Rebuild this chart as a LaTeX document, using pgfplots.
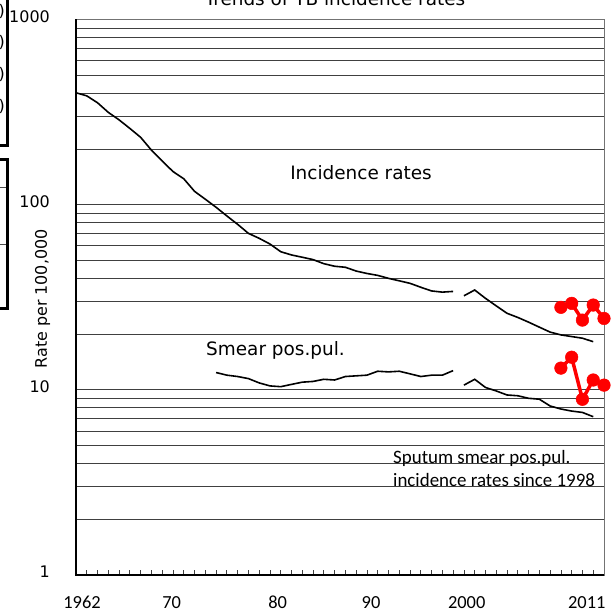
\documentclass[border=0pt]{standalone}
\usepackage{fontspec}
\setmainfont{DejaVu Sans}
\newfontfamily\carlito{Carlito}
\usepackage{pgfplots}
\usepackage{pgfplotstable}
\pgfplotsset{compat=1.18}

% incidence rates, old definition
\pgfplotstableread{
year val
1962 402
1963 387
1964 355
1965 315
1966 287
1967 258
1968 231
1969 197
1970 172
1971 151
1972 138
1973 118
1974 107
1975 96.8
1976 86.9
1977 78.3
1978 70.0
1979 65.8
1980 61.3
1981 55.7
1982 53.5
1983 52.0
1984 50.5
1985 48.0
1986 46.5
1987 45.9
1988 43.8
1989 42.5
1990 41.5
1991 40.0
1992 38.8
1993 37.6
1994 35.8
1995 34.2
1996 33.7
1997 34.0
}\incold

% incidence rates since 1998
\pgfplotstableread{
year val
1998 32.2
1999 34.6
2000 31.2
2001 28.4
2002 25.9
2003 24.6
2004 23.2
2005 21.8
2006 20.5
2007 19.8
2008 19.4
2009 19.0
2010 18.2
}\incnew

% smear positive, old
\pgfplotstableread{
year val
1975 12.4
1976 12.0
1977 11.8
1978 11.5
1979 10.9
1980 10.5
1981 10.4
1982 10.7
1983 11.0
1984 11.1
1985 11.4
1986 11.3
1987 11.8
1988 11.9
1989 12.0
1990 12.6
1991 12.5
1992 12.6
1993 12.2
1994 11.8
1995 12.0
1996 12.0
1997 12.7
}\smearold

% sputum smear positive since 1998
\pgfplotstableread{
year val
1998 10.6
1999 11.4
2000 10.3
2001 9.86
2002 9.38
2003 9.29
2004 9.00
2005 8.90
2006 8.18
2007 7.88
2008 7.68
2009 7.55
2010 7.16
}\smearnew

% red series
\pgfplotstableread{
year val
2007 27.9
2008 29.3
2009 23.8
2010 28.7
2011 24.3
}\redinc

\pgfplotstableread{
year val
2007 13.1
2008 15.0
2009 8.89
2010 11.3
2011 10.6
}\redsmear

\begin{document}
\begin{tikzpicture}
\useasboundingbox (0,0) rectangle (616bp,612bp);

% bits of the neighbouring chart cut off at the left edge
\draw[line width=3bp] (7.7bp,620bp) -- (7.7bp,466.3bp) -- (-5bp,466.3bp);
\draw[line width=3bp] (-5bp,452.7bp) -- (7.7bp,452.7bp) -- (7.7bp,303bp) -- (-5bp,303bp);
\draw[black!70, line width=0.8bp] (-5bp,425bp) -- (6bp,425bp);
\draw[black!70, line width=0.8bp] (-5bp,368bp) -- (6bp,368bp);
\foreach \yy in {600,569,537,505}
  \node[anchor=east, inner sep=0pt, font=\fontsize{16}{19}\selectfont] at (5bp,\yy bp) {)};

\begin{axis}[
  at={(76bp,37bp)}, anchor=south west,
  scale only axis, width=528bp, height=555.5bp,
  xmin=1962, xmax=2011, ymin=1, ymax=1000, ymode=log,
  xtick={1962.56,1970.88,1980.72,1989.38,1998.26,2009.4},
  xticklabels={1962,70,80,90,2000,2011},
  minor xtick={1963,1964,1965,1966,1967,1968,1969,1970,1971,1972,1973,1974,1975,1976,1977,1978,1979,1980,1981,1982,1983,1984,1985,1986,1987,1988,1989,1990,1991,1992,1993,1994,1995,1996,1997,1998,1999,2000,2001,2002,2003,2004,2005,2006,2007,2008,2009,2010},
  ytick={1,10,100,1000}, yticklabels={1,10,100,1000},
  minor ytick={2,3,4,5,6,7,8,9,20,30,40,50,60,70,80,90,200,300,400,500,600,700,800,900},
  xtick pos=bottom, ytick pos=left,
  tick align=inside,
  major tick length=0pt, minor tick length=5bp,
  tick style={black!75, line width=0.8bp},
  ymajorgrids, yminorgrids,
  major grid style={black!75, line width=0.8bp},
  minor grid style={black!75, line width=0.8bp},
  axis line style={black!55, line width=0.8bp},
  xticklabel style={font=\carlito\fontsize{18.5}{20}\selectfont, anchor=base, yshift=-33.5bp, inner sep=0pt},
  yticklabel style={font=\fontsize{16}{19}\selectfont, anchor=east, xshift=-26bp, yshift=3bp, inner sep=0pt},
  ylabel={Rate per 100,000},
  every axis y label/.style={at={(axis description cs:-0.0634,0.497)}, rotate=90, anchor=center, font=\fontsize{16}{19}\selectfont},
  clip=false,
]
\addplot[black, line width=1.6bp, no markers] table[x=year, y=val] {\incold};
\addplot[black, line width=1.6bp, no markers] table[x=year, y=val] {\incnew};
\addplot[black, line width=1.6bp, no markers] table[x=year, y=val] {\smearold};
\addplot[black, line width=1.6bp, no markers] table[x=year, y=val] {\smearnew};
\addplot[red, line width=3.5bp, mark=*, mark size=6.3bp, mark options={fill=red, draw=red, line width=0.5bp}] table[x=year, y=val] {\redinc};
\addplot[red, line width=3.5bp, mark=*, mark size=6.3bp, mark options={fill=red, draw=red, line width=0.5bp}] table[x=year, y=val] {\redsmear};

\draw[black, line width=1.6bp] (rel axis cs:0,1) -- (rel axis cs:0,0) -- (rel axis cs:1,0);

\node[font=\fontsize{18.5}{22}\selectfont] at (axis description cs:0.5398,0.7237) {Incidence rates};
\node[font=\fontsize{18.5}{22}\selectfont] at (axis description cs:0.3778,0.405) {Smear pos.pul.};
\node[font=\carlito\fontsize{19}{23}\selectfont, align=left, anchor=west, inner sep=0pt] at (axis description cs:0.6004,0.1917) {Sputum smear pos.pul.\\incidence rates since 1998};
\end{axis}

\node[anchor=base, font=\fontsize{18.5}{22}\selectfont] at (335bp,606bp) {Trends of TB incidence rates};
\end{tikzpicture}
\end{document}
